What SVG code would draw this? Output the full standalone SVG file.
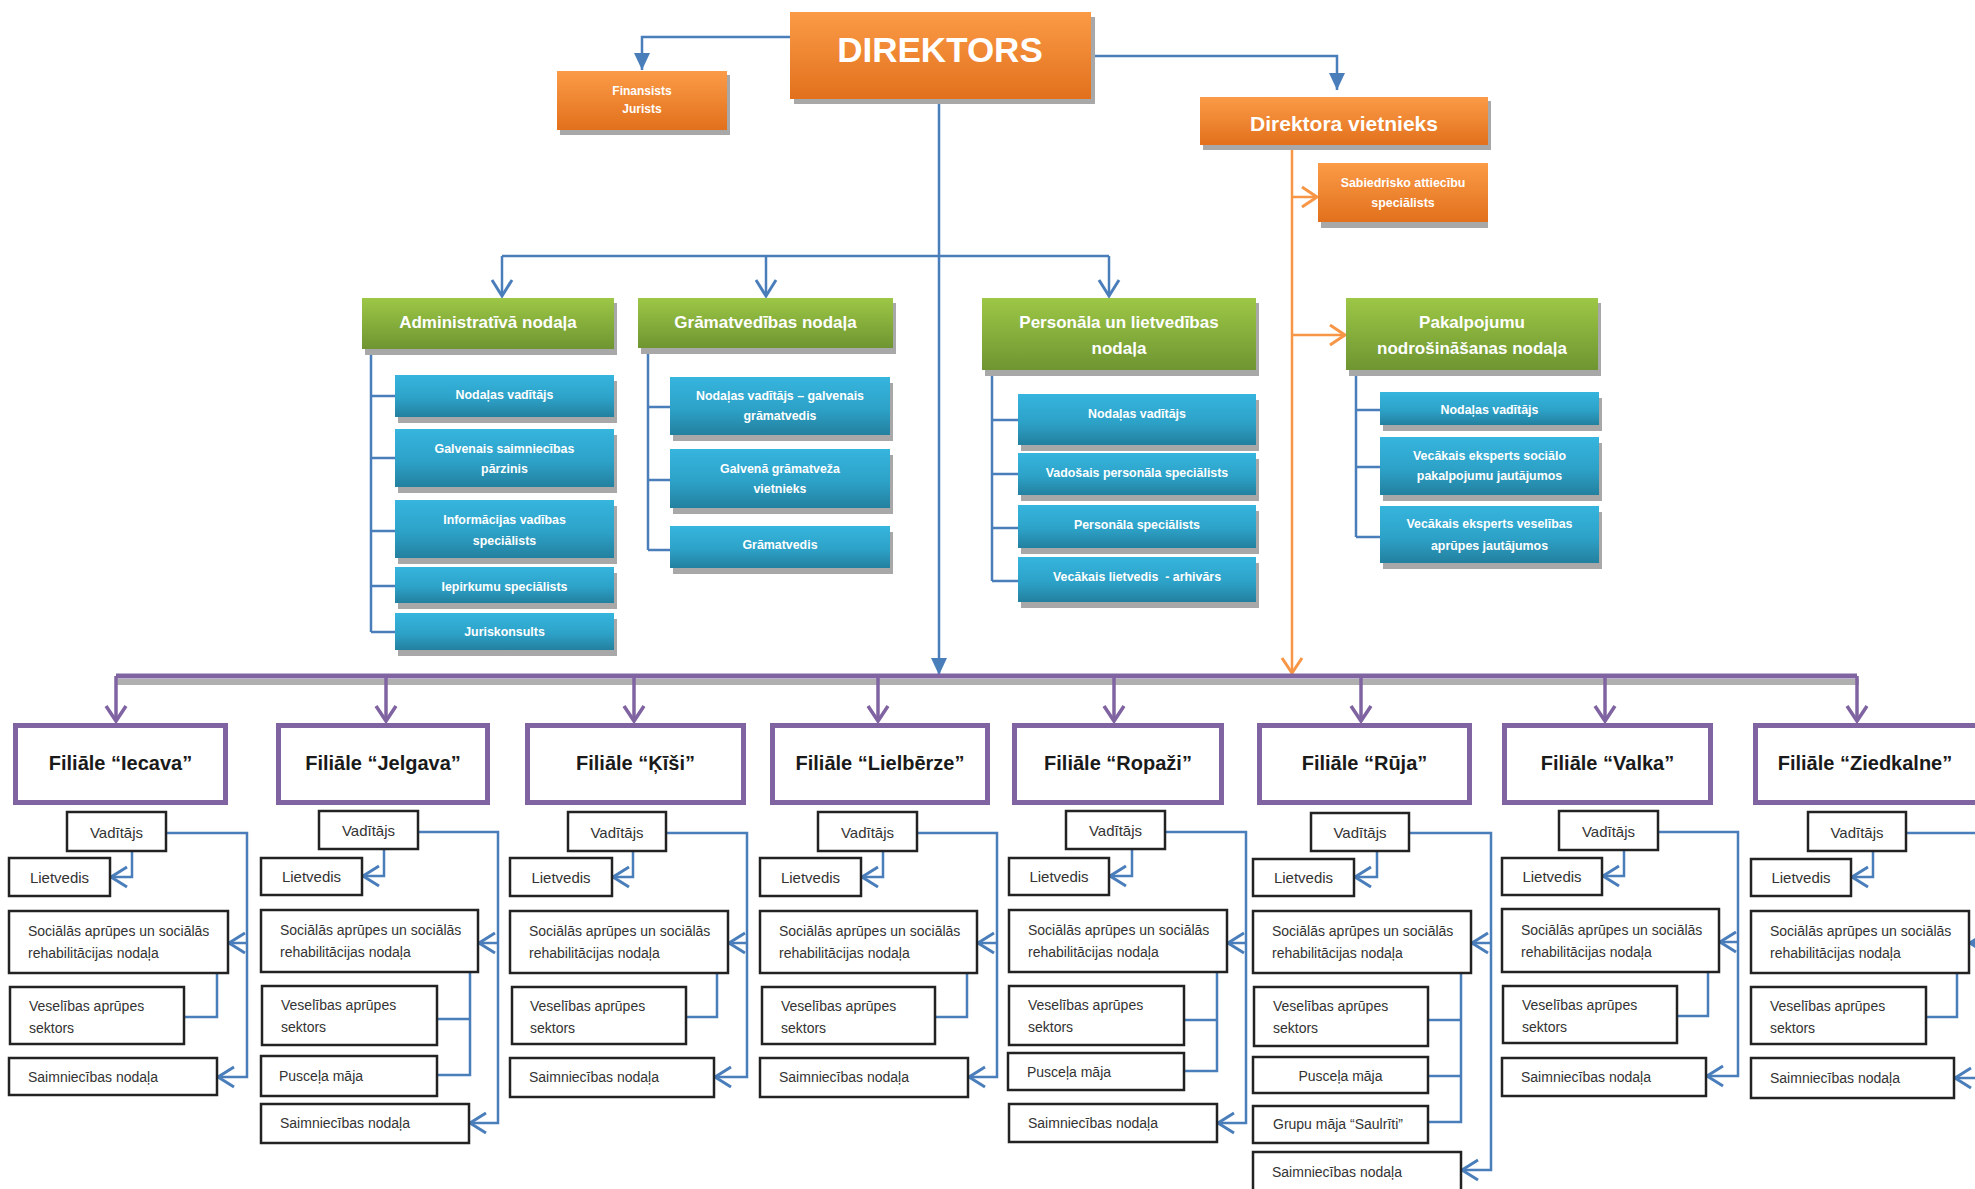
<svg xmlns="http://www.w3.org/2000/svg" width="1975" height="1189" viewBox="0 0 1975 1189">
<defs>
<linearGradient id="gO" x1="0" y1="0" x2="0" y2="1"><stop offset="0" stop-color="#fb9b47"/><stop offset="1" stop-color="#e2701c"/></linearGradient>
<linearGradient id="gG" x1="0" y1="0" x2="0" y2="1"><stop offset="0" stop-color="#9dc746"/><stop offset="1" stop-color="#6e9531"/></linearGradient>
<linearGradient id="gT" x1="0" y1="0" x2="0" y2="1"><stop offset="0" stop-color="#36b5de"/><stop offset="0.55" stop-color="#2da2c8"/><stop offset="1" stop-color="#23809f"/></linearGradient>
<marker id="ob" markerUnits="userSpaceOnUse" markerWidth="30" markerHeight="30" viewBox="-20 -15 30 30" refX="0" refY="0" orient="auto" overflow="visible"><path d="M-16,-10 L0,0 L-16,10" fill="none" stroke="#4a7ebb" stroke-width="3"/></marker>
<marker id="fb" markerUnits="userSpaceOnUse" markerWidth="30" markerHeight="30" viewBox="-20 -15 30 30" refX="0" refY="0" orient="auto" overflow="visible"><path d="M-17,-8 L0,0 L-17,8 Z" fill="#4a7ebb"/></marker>
<marker id="oo" markerUnits="userSpaceOnUse" markerWidth="30" markerHeight="30" viewBox="-20 -15 30 30" refX="0" refY="0" orient="auto" overflow="visible"><path d="M-15,-10 L0,0 L-15,10" fill="none" stroke="#f79646" stroke-width="3"/></marker>
<marker id="op" markerUnits="userSpaceOnUse" markerWidth="30" markerHeight="30" viewBox="-20 -15 30 30" refX="0" refY="0" orient="auto" overflow="visible"><path d="M-15,-10 L0,0 L-15,10" fill="none" stroke="#8064a2" stroke-width="3.5"/></marker>
</defs>
<style>
.sh{fill:#a8a8a8}
.o{fill:url(#gO)}
.g{fill:url(#gG)}
.t{fill:url(#gT)}
.w{font-family:"Liberation Sans",Arial,sans-serif;fill:#fff;font-weight:bold;text-anchor:middle;dominant-baseline:central}
.s{font-size:12.4px}
.gt{font-size:17px}
.fr{fill:#fff;stroke:#8064a2;stroke-width:5}
.ft{font-family:"Liberation Sans",Arial,sans-serif;font-size:20px;font-weight:bold;fill:#1a1a1a;text-anchor:middle;dominant-baseline:central}
.br{fill:#fff;stroke:#222;stroke-width:2.5}
.bt{font-family:"Liberation Sans",Arial,sans-serif;font-size:14px;fill:#333;dominant-baseline:central}
.bc{text-anchor:middle;font-size:15px}
.bl{fill:none;stroke:#4a7ebb;stroke-width:2.5}
.or{fill:none;stroke:#f79646;stroke-width:2.5}
.pu{fill:none;stroke:#8064a2;stroke-width:3.5}
</style>
<rect width="1975" height="1189" fill="#fff"/>

<g id="connectors">
<path class="bl" d="M790,37 H642 V70" marker-end="url(#fb)"/>
<path class="bl" d="M1091,56 H1337 V90" marker-end="url(#fb)"/>
<path class="bl" d="M939,99 V675" marker-end="url(#fb)"/>
<path class="bl" d="M502,256 H1109"/>
<path class="bl" d="M502,256 V296" marker-end="url(#ob)"/>
<path class="bl" d="M766,256 V296" marker-end="url(#ob)"/>
<path class="bl" d="M1109,256 V296" marker-end="url(#ob)"/>
<path class="bl" d="M371,349 V632 M371,396 H395 M371,458 H395 M371,531 H395 M371,586 H395 M371,632 H395"/>
<path class="bl" d="M648,348 V550 M648,407 H670 M648,480 H670 M648,550 H670"/>
<path class="bl" d="M992,370 V581 M992,420 H1018 M992,474 H1018 M992,528 H1018 M992,581 H1018"/>
<path class="bl" d="M1356,370 V537 M1356,410 H1380 M1356,467 H1380 M1356,537 H1380"/>
<path class="or" d="M1292,145 V673" marker-end="url(#oo)"/>
<path class="or" d="M1292,197 H1317" marker-end="url(#oo)"/>
<path class="or" d="M1292,335 H1345" marker-end="url(#oo)"/>
<rect x="116" y="679" width="1743" height="6" fill="#b0b0b0"/>
<path d="M116,676 H1857" stroke="#8064a2" stroke-width="5" fill="none"/>
<path class="pu" d="M116,676 V721" marker-end="url(#op)"/>
<path class="pu" d="M386,676 V721" marker-end="url(#op)"/>
<path class="pu" d="M634,676 V721" marker-end="url(#op)"/>
<path class="pu" d="M878,676 V721" marker-end="url(#op)"/>
<path class="pu" d="M1114,676 V721" marker-end="url(#op)"/>
<path class="pu" d="M1361,676 V721" marker-end="url(#op)"/>
<path class="pu" d="M1605,676 V721" marker-end="url(#op)"/>
<path class="pu" d="M1857,676 V721" marker-end="url(#op)"/>
<!-- Iecava -->
<path class="bl" d="M132,851 V877 H111" marker-end="url(#ob)"/>
<path class="bl" d="M166,833 H247 V1077 H218" marker-end="url(#ob)"/>
<path class="bl" d="M247,943 H229" marker-end="url(#ob)"/>
<path class="bl" d="M217,973 V1017 H184"/>
<!-- Jelgava -->
<path class="bl" d="M384,849 V876 H363" marker-end="url(#ob)"/>
<path class="bl" d="M418,832 H498 V1123 H470" marker-end="url(#ob)"/>
<path class="bl" d="M498,943 H479" marker-end="url(#ob)"/>
<path class="bl" d="M470,972 V1075 H437 M470,1019 H437"/>
<!-- Kisi -->
<path class="bl" d="M633,851 V877 H613" marker-end="url(#ob)"/>
<path class="bl" d="M666,833 H747 V1077 H715" marker-end="url(#ob)"/>
<path class="bl" d="M747,943 H729" marker-end="url(#ob)"/>
<path class="bl" d="M717,973 V1017 H686"/>
<!-- Lielberze -->
<path class="bl" d="M883,851 V877 H862" marker-end="url(#ob)"/>
<path class="bl" d="M917,833 H997 V1077 H969" marker-end="url(#ob)"/>
<path class="bl" d="M997,943 H978" marker-end="url(#ob)"/>
<path class="bl" d="M967,973 V1017 H935"/>
<!-- Ropazi -->
<path class="bl" d="M1132,849 V876 H1110" marker-end="url(#ob)"/>
<path class="bl" d="M1165,832 H1246 V1123 H1218" marker-end="url(#ob)"/>
<path class="bl" d="M1246,943 H1228" marker-end="url(#ob)"/>
<path class="bl" d="M1217,972 V1071 H1184 M1217,1020 H1184"/>
<!-- Ruja -->
<path class="bl" d="M1377,851 V877 H1355" marker-end="url(#ob)"/>
<path class="bl" d="M1409,833 H1491 V1170 H1462" marker-end="url(#ob)"/>
<path class="bl" d="M1491,943 H1472" marker-end="url(#ob)"/>
<path class="bl" d="M1461,973 V1122 H1428 M1461,1020 H1428 M1461,1076 H1428"/>
<!-- Valka -->
<path class="bl" d="M1624,850 V876 H1603" marker-end="url(#ob)"/>
<path class="bl" d="M1658,832 H1738 V1076 H1707" marker-end="url(#ob)"/>
<path class="bl" d="M1738,942 H1720" marker-end="url(#ob)"/>
<path class="bl" d="M1708,972 V1016 H1677"/>
<!-- Ziedkalne -->
<path class="bl" d="M1873,851 V877 H1852" marker-end="url(#ob)"/>
<path class="bl" d="M1906,833 H1990 V1078 H1955" marker-end="url(#ob)"/>
<path class="bl" d="M1990,943 H1970" marker-end="url(#ob)"/>
<path class="bl" d="M1957,973 V1017 H1926"/>
</g>

<g id="direktors">
<rect class="sh" x="794" y="17" width="301" height="87"/>
<rect class="o" x="790" y="12" width="301" height="87"/>
<text class="w" x="940" y="49" font-size="35">DIREKTORS</text>
</g>
<g id="finansists">
<rect class="sh" x="560" y="75" width="170" height="60"/>
<rect class="o" x="557" y="71" width="170" height="59"/>
<text class="w" x="642" y="91" font-size="12">Finansists</text>
<text class="w" x="642" y="109" font-size="12">Jurists</text>
</g>
<g id="vietnieks">
<rect class="sh" x="1203" y="101" width="288" height="49"/>
<rect class="o" x="1200" y="97" width="288" height="48"/>
<text class="w" x="1344" y="123" font-size="21">Direktora vietnieks</text>
</g>
<g id="sabiedrisko">
<rect class="sh" x="1321" y="167" width="167" height="61"/>
<rect class="o" x="1318" y="163" width="170" height="59"/>
<text class="w s" x="1403" y="183">Sabiedrisko attiecību</text>
<text class="w s" x="1403" y="203">speciālists</text>
</g>

<g id="administrativa">
<rect class="sh" x="365" y="303" width="252" height="52"/>
<rect class="g" x="362" y="298" width="252" height="51"/>
<text class="w gt" x="488" y="322">Administratīvā nodaļa</text>
<rect class="sh" x="398" y="381" width="219" height="42"/><rect class="t" x="395" y="375" width="219" height="42"/>
<text class="w s" x="504.5" y="395">Nodaļas vadītājs</text>
<rect class="sh" x="398" y="435" width="219" height="58"/><rect class="t" x="395" y="429" width="219" height="58"/>
<text class="w s" x="504.5" y="449">Galvenais saimniecības</text>
<text class="w s" x="504.5" y="469">pārzinis</text>
<rect class="sh" x="398" y="506" width="219" height="58"/><rect class="t" x="395" y="500" width="219" height="58"/>
<text class="w s" x="504.5" y="520">Informācijas vadības</text>
<text class="w s" x="504.5" y="541">speciālists</text>
<rect class="sh" x="398" y="573" width="219" height="36"/><rect class="t" x="395" y="567" width="219" height="36"/>
<text class="w s" x="504.5" y="587">Iepirkumu speciālists</text>
<rect class="sh" x="398" y="619" width="219" height="37"/><rect class="t" x="395" y="613" width="219" height="37"/>
<text class="w s" x="504.5" y="632">Juriskonsults</text>
</g>

<g id="gramatvedibas">
<rect class="sh" x="641" y="303" width="255" height="51"/>
<rect class="g" x="638" y="298" width="255" height="50"/>
<text class="w gt" x="765.5" y="322">Grāmatvedības nodaļa</text>
<rect class="sh" x="673" y="383" width="220" height="58"/><rect class="t" x="670" y="377" width="220" height="58"/>
<text class="w s" x="780" y="396">Nodaļas vadītājs – galvenais</text>
<text class="w s" x="780" y="416">grāmatvedis</text>
<rect class="sh" x="673" y="455" width="220" height="59"/><rect class="t" x="670" y="449" width="220" height="59"/>
<text class="w s" x="780" y="469">Galvenā grāmatveža</text>
<text class="w s" x="780" y="489">vietnieks</text>
<rect class="sh" x="673" y="532" width="220" height="42"/><rect class="t" x="670" y="526" width="220" height="42"/>
<text class="w s" x="780" y="545">Grāmatvedis</text>
</g>

<g id="personala">
<rect class="sh" x="985" y="303" width="274" height="73"/>
<rect class="g" x="982" y="298" width="274" height="72"/>
<text class="w gt" x="1119" y="322">Personāla un lietvedības</text>
<text class="w gt" x="1119" y="348">nodaļa</text>
<rect class="sh" x="1021" y="400" width="238" height="51"/><rect class="t" x="1018" y="394" width="238" height="51"/>
<text class="w s" x="1137" y="414">Nodaļas vadītājs</text>
<rect class="sh" x="1021" y="459" width="238" height="42"/><rect class="t" x="1018" y="453" width="238" height="42"/>
<text class="w s" x="1137" y="473">Vadošais personāla speciālists</text>
<rect class="sh" x="1021" y="511" width="238" height="43"/><rect class="t" x="1018" y="505" width="238" height="43"/>
<text class="w s" x="1137" y="525">Personāla speciālists</text>
<rect class="sh" x="1021" y="563" width="238" height="45"/><rect class="t" x="1018" y="557" width="238" height="45"/>
<text class="w s" x="1137" y="577" xml:space="preserve">Vecākais lietvedis  - arhivārs</text>
</g>

<g id="pakalpojumu">
<rect class="sh" x="1349" y="303" width="252" height="73"/>
<rect class="g" x="1346" y="298" width="252" height="72"/>
<text class="w gt" x="1472" y="322">Pakalpojumu</text>
<text class="w gt" x="1472" y="348">nodrošināšanas nodaļa</text>
<rect class="sh" x="1383" y="398" width="219" height="33"/><rect class="t" x="1380" y="392" width="219" height="33"/>
<text class="w s" x="1489.5" y="410">Nodaļas vadītājs</text>
<rect class="sh" x="1383" y="443" width="219" height="58"/><rect class="t" x="1380" y="437" width="219" height="58"/>
<text class="w s" x="1489.5" y="456">Vecākais eksperts sociālo</text>
<text class="w s" x="1489.5" y="476">pakalpojumu jautājumos</text>
<rect class="sh" x="1383" y="512" width="219" height="57"/><rect class="t" x="1380" y="506" width="219" height="57"/>
<text class="w s" x="1489.5" y="524">Vecākais eksperts veselības</text>
<text class="w s" x="1489.5" y="546">aprūpes jautājumos</text>
</g>

<g id="filiale-iecava">
<rect class="fr" x="15.5" y="725.5" width="210" height="77"/>
<text class="ft" x="120.5" y="763">Filiāle “Iecava”</text>
<rect class="br" x="67" y="812" width="99" height="39"/><text class="bt bc" x="116.5" y="832">Vadītājs</text>
<rect class="br" x="9" y="858" width="101" height="38"/><text class="bt bc" x="59.5" y="877">Lietvedis</text>
<rect class="br" x="9" y="911" width="219" height="62"/><text class="bt" x="28" y="931">Sociālās aprūpes un sociālās</text><text class="bt" x="28" y="953">rehabilitācijas nodaļa</text>
<rect class="br" x="10" y="987" width="174" height="57"/><text class="bt" x="29" y="1006">Veselības aprūpes</text><text class="bt" x="29" y="1028">sektors</text>
<rect class="br" x="9" y="1058" width="208" height="37"/><text class="bt" x="28" y="1077">Saimniecības nodaļa</text>
</g>

<g id="filiale-jelgava">
<rect class="fr" x="278.5" y="725.5" width="209" height="77"/>
<text class="ft" x="383" y="763">Filiāle “Jelgava”</text>
<rect class="br" x="319" y="811" width="99" height="38"/><text class="bt bc" x="368.5" y="830">Vadītājs</text>
<rect class="br" x="261" y="858" width="101" height="37"/><text class="bt bc" x="311.5" y="876">Lietvedis</text>
<rect class="br" x="261" y="910" width="217" height="62"/><text class="bt" x="280" y="930">Sociālās aprūpes un sociālās</text><text class="bt" x="280" y="952">rehabilitācijas nodaļa</text>
<rect class="br" x="262" y="986" width="175" height="59"/><text class="bt" x="281" y="1005">Veselības aprūpes</text><text class="bt" x="281" y="1027">sektors</text>
<rect class="br" x="261" y="1056" width="176" height="40"/><text class="bt" x="279" y="1076">Pusceļa māja</text>
<rect class="br" x="261" y="1104" width="208" height="39"/><text class="bt" x="280" y="1123">Saimniecības nodaļa</text>
</g>

<g id="filiale-kisi">
<rect class="fr" x="527.5" y="725.5" width="216" height="77"/>
<text class="ft" x="635.5" y="763">Filiāle “Ķīši”</text>
<rect class="br" x="568" y="812" width="98" height="39"/><text class="bt bc" x="617" y="832">Vadītājs</text>
<rect class="br" x="510" y="858" width="102" height="38"/><text class="bt bc" x="561" y="877">Lietvedis</text>
<rect class="br" x="510" y="911" width="218" height="62"/><text class="bt" x="529" y="931">Sociālās aprūpes un sociālās</text><text class="bt" x="529" y="953">rehabilitācijas nodaļa</text>
<rect class="br" x="512" y="987" width="174" height="57"/><text class="bt" x="530" y="1006">Veselības aprūpes</text><text class="bt" x="530" y="1028">sektors</text>
<rect class="br" x="510" y="1058" width="204" height="39"/><text class="bt" x="529" y="1077">Saimniecības nodaļa</text>
</g>

<g id="filiale-lielberze">
<rect class="fr" x="772.5" y="725.5" width="215" height="77"/>
<text class="ft" x="880" y="763">Filiāle “Lielbērze”</text>
<rect class="br" x="818" y="812" width="99" height="39"/><text class="bt bc" x="867.5" y="832">Vadītājs</text>
<rect class="br" x="760" y="858" width="101" height="38"/><text class="bt bc" x="810.5" y="877">Lietvedis</text>
<rect class="br" x="760" y="911" width="217" height="62"/><text class="bt" x="779" y="931">Sociālās aprūpes un sociālās</text><text class="bt" x="779" y="953">rehabilitācijas nodaļa</text>
<rect class="br" x="762" y="987" width="173" height="57"/><text class="bt" x="781" y="1006">Veselības aprūpes</text><text class="bt" x="781" y="1028">sektors</text>
<rect class="br" x="760" y="1058" width="208" height="39"/><text class="bt" x="779" y="1077">Saimniecības nodaļa</text>
</g>

<g id="filiale-ropazi">
<rect class="fr" x="1014.5" y="725.5" width="207" height="77"/>
<text class="ft" x="1118" y="763">Filiāle “Ropaži”</text>
<rect class="br" x="1066" y="811" width="99" height="38"/><text class="bt bc" x="1115.5" y="830">Vadītājs</text>
<rect class="br" x="1009" y="858" width="100" height="37"/><text class="bt bc" x="1059" y="876">Lietvedis</text>
<rect class="br" x="1009" y="910" width="218" height="62"/><text class="bt" x="1028" y="930">Sociālās aprūpes un sociālās</text><text class="bt" x="1028" y="952">rehabilitācijas nodaļa</text>
<rect class="br" x="1009" y="986" width="175" height="59"/><text class="bt" x="1028" y="1005">Veselības aprūpes</text><text class="bt" x="1028" y="1027">sektors</text>
<rect class="br" x="1008" y="1053" width="176" height="37"/><text class="bt" x="1027" y="1072">Pusceļa māja</text>
<rect class="br" x="1009" y="1104" width="208" height="38"/><text class="bt" x="1028" y="1123">Saimniecības nodaļa</text>
</g>

<g id="filiale-ruja">
<rect class="fr" x="1259.5" y="725.5" width="210" height="77"/>
<text class="ft" x="1364.5" y="763">Filiāle “Rūja”</text>
<rect class="br" x="1311" y="813" width="98" height="38"/><text class="bt bc" x="1360" y="832">Vadītājs</text>
<rect class="br" x="1253" y="859" width="101" height="37"/><text class="bt bc" x="1303.5" y="877">Lietvedis</text>
<rect class="br" x="1253" y="911" width="218" height="62"/><text class="bt" x="1272" y="931">Sociālās aprūpes un sociālās</text><text class="bt" x="1272" y="953">rehabilitācijas nodaļa</text>
<rect class="br" x="1254" y="987" width="174" height="59"/><text class="bt" x="1273" y="1006">Veselības aprūpes</text><text class="bt" x="1273" y="1028">sektors</text>
<rect class="br" x="1253" y="1057" width="175" height="36"/><text class="bt" x="1340.5" y="1076" text-anchor="middle">Pusceļa māja</text>
<rect class="br" x="1253" y="1106" width="175" height="37"/><text class="bt" x="1273" y="1124">Grupu māja “Saulrīti”</text>
<rect class="br" x="1253" y="1152" width="208" height="42"/><text class="bt" x="1272" y="1172">Saimniecības nodaļa</text>
</g>

<g id="filiale-valka">
<rect class="fr" x="1504.5" y="725.5" width="206" height="77"/>
<text class="ft" x="1607.5" y="763">Filiāle “Valka”</text>
<rect class="br" x="1559" y="811" width="99" height="39"/><text class="bt bc" x="1608.5" y="831">Vadītājs</text>
<rect class="br" x="1502" y="858" width="100" height="37"/><text class="bt bc" x="1552" y="876">Lietvedis</text>
<rect class="br" x="1502" y="909" width="217" height="63"/><text class="bt" x="1521" y="930">Sociālās aprūpes un sociālās</text><text class="bt" x="1521" y="952">rehabilitācijas nodaļa</text>
<rect class="br" x="1503" y="986" width="174" height="57"/><text class="bt" x="1522" y="1005">Veselības aprūpes</text><text class="bt" x="1522" y="1027">sektors</text>
<rect class="br" x="1502" y="1058" width="204" height="38"/><text class="bt" x="1521" y="1077">Saimniecības nodaļa</text>
</g>

<g id="filiale-ziedkalne">
<rect class="fr" x="1755.5" y="725.5" width="232" height="77"/>
<text class="ft" x="1865" y="763">Filiāle “Ziedkalne”</text>
<rect class="br" x="1808" y="812" width="98" height="39"/><text class="bt bc" x="1857" y="832">Vadītājs</text>
<rect class="br" x="1751" y="859" width="100" height="37"/><text class="bt bc" x="1801" y="877">Lietvedis</text>
<rect class="br" x="1751" y="911" width="218" height="62"/><text class="bt" x="1770" y="931">Sociālās aprūpes un sociālās</text><text class="bt" x="1770" y="953">rehabilitācijas nodaļa</text>
<rect class="br" x="1751" y="987" width="175" height="57"/><text class="bt" x="1770" y="1006">Veselības aprūpes</text><text class="bt" x="1770" y="1028">sektors</text>
<rect class="br" x="1751" y="1058" width="203" height="40"/><text class="bt" x="1770" y="1078">Saimniecības nodaļa</text>
</g>
</svg>
